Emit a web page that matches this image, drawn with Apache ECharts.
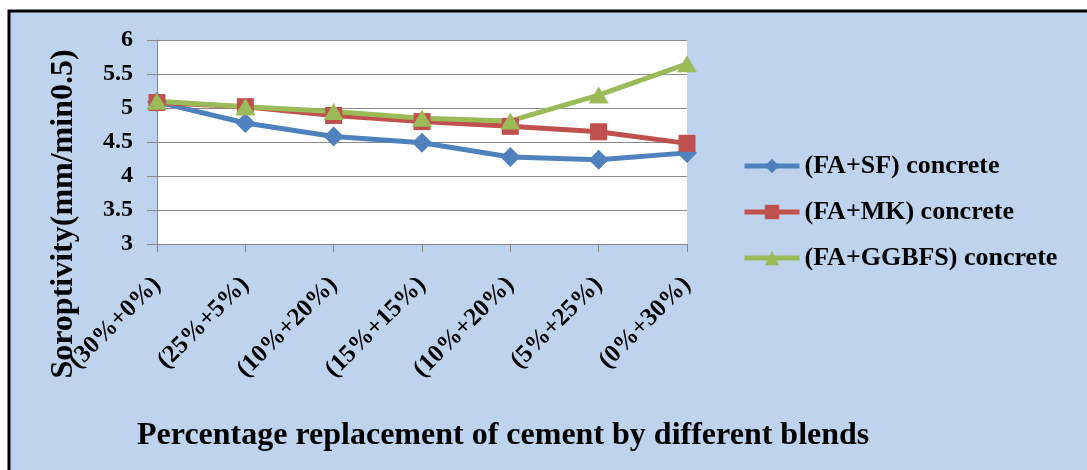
<!DOCTYPE html>
<html>
<head>
<meta charset="utf-8">
<script src="https://cdn.jsdelivr.net/npm/echarts@6/dist/echarts.min.js"></script>
<style>
html,body{margin:0;padding:0;background:#fff;}
#c{width:1087px;height:470px;}
</style>
</head>
<body>
<div id="c"></div>
<script>
var categories = ['(30%+0%)', '(25%+5%)', '(10%+20%)', '(15%+15%)', '(10%+20%)', '(5%+25%)', '(0%+30%)'];
var seriesNames = ['(FA+SF) concrete', '(FA+MK) concrete', '(FA+GGBFS) concrete'];
var sfValues = [5.09, 4.78, 4.58, 4.49, 4.28, 4.24, 4.34];
var mkValues = [5.08, 5.02, 4.89, 4.80, 4.73, 4.65, 4.48];
var ggbfsValues = [5.10, 5.02, 4.95, 4.85, 4.81, 5.19, 5.65];
var yTicks = [3, 3.5, 4, 4.5, 5, 5.5, 6];
var xTitle = 'Percentage replacement of cement by different blends';
var yTitle = 'Soroptivity(mm/min0.5)';

var FONT = "'Liberation Serif', 'Times New Roman', serif";
var chart = echarts.init(document.getElementById('c'));
chart.setOption({
  backgroundColor: '#ffffff',
  animation: false,
  graphic: [
    {type: 'rect', z: -10, shape: {x: 9, y: 11, width: 1100, height: 480},
     style: {fill: '#BED3EE', stroke: '#000', lineWidth: 3}},
    {type: 'text', z: 100, x: 64, y: 214, rotation: Math.PI / 2,
     style: {text: yTitle, font: 'bold 32px ' + FONT, fill: '#000', textAlign: 'center', textVerticalAlign: 'middle'}},
    {type: 'text', z: 100, x: 137, y: 436,
     style: {text: xTitle, font: 'bold 32px ' + FONT, fill: '#000', textAlign: 'left', textVerticalAlign: 'middle'}}
  ],
  grid: {left: 157, right: 400, top: 40, bottom: 226, show: true, backgroundColor: '#ffffff', borderWidth: 0},
  legend: {
    orient: 'vertical', left: 742, top: 153, padding: 0, itemWidth: 55, itemHeight: 18, itemGap: 20,
    data: seriesNames,
    lineStyle: {width: 5},
    textStyle: {fontFamily: FONT, fontWeight: 'bold', fontSize: 26, color: '#000', lineHeight: 24}
  },
  xAxis: {
    type: 'category', data: categories, boundaryGap: false,
    axisLine: {lineStyle: {color: '#888', width: 1}},
    axisTick: {show: true, length: 8, lineStyle: {color: '#888'}, alignWithLabel: true},
    axisLabel: {rotate: 45, margin: 37, interval: 0, color: '#000', fontFamily: FONT, fontWeight: 'bold', fontSize: 25},
    splitLine: {show: false}
  },
  yAxis: {
    type: 'value', min: yTicks[0], max: yTicks[yTicks.length - 1], interval: 0.5,
    axisLine: {show: true, lineStyle: {color: '#888', width: 1}},
    axisTick: {show: true, length: 10, lineStyle: {color: '#888'}},
    axisLabel: {margin: 24, color: '#000', fontFamily: FONT, fontWeight: 'bold', fontSize: 24},
    splitLine: {show: true, lineStyle: {color: '#8a8a8a', width: 1}}
  },
  series: [
    {name: seriesNames[0], type: 'line', data: sfValues, symbol: 'diamond', symbolSize: [20, 20],
     lineStyle: {color: '#4F81BD', width: 5}, itemStyle: {color: '#4F81BD'}},
    {name: seriesNames[1], type: 'line', data: mkValues, symbol: 'rect', symbolSize: [17, 17],
     lineStyle: {color: '#C0504D', width: 5}, itemStyle: {color: '#C0504D'}},
    {name: seriesNames[2], type: 'line', data: ggbfsValues, symbol: 'triangle', symbolSize: [20, 17],
     lineStyle: {color: '#9BBB59', width: 5}, itemStyle: {color: '#9BBB59'}}
  ]
});
</script>
</body>
</html>
